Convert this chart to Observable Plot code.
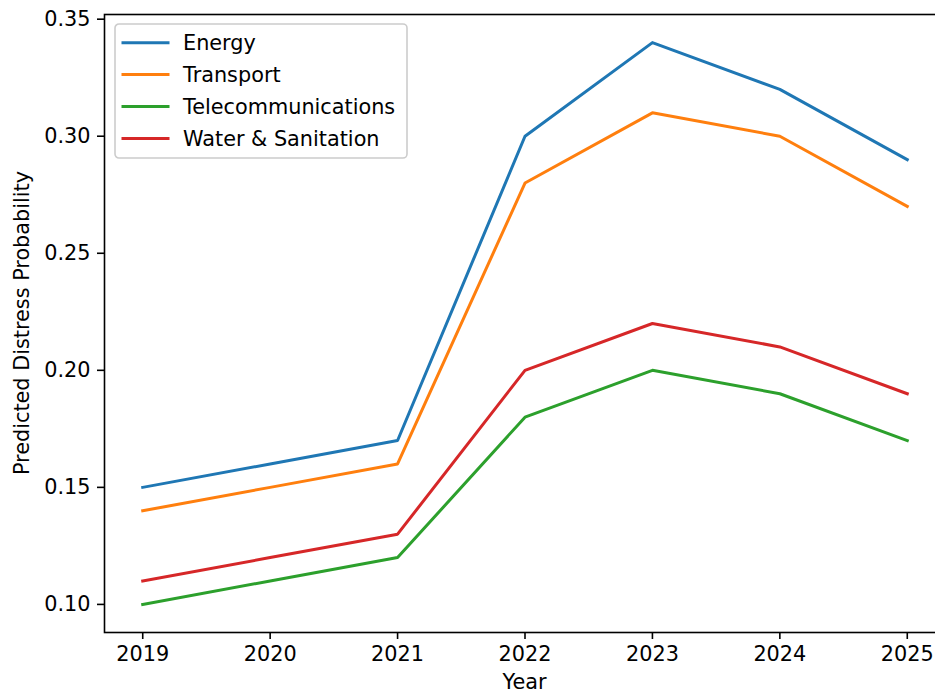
<!DOCTYPE html>
<html>
<head>
<meta charset="utf-8">
<script src="https://cdn.jsdelivr.net/npm/d3@7"></script>
<script src="https://cdn.jsdelivr.net/npm/@observablehq/plot@0.6"></script>
<style>
  html, body { margin: 0; padding: 0; background: #fff; overflow: hidden; }
  #chart svg { max-width: none !important; display: block; }
</style>
</head>
<body>
<div id="chart"></div>
<script>
// Predicted distress probability by infrastructure sector, 2019–2025
const years = [2019, 2020, 2021, 2022, 2023, 2024, 2025];
const energy = [0.15, 0.16, 0.17, 0.30, 0.34, 0.32, 0.29];
const transport = [0.14, 0.15, 0.16, 0.28, 0.31, 0.30, 0.27];
const telecommunications = [0.10, 0.11, 0.12, 0.18, 0.20, 0.19, 0.17];
const waterSanitation = [0.11, 0.12, 0.13, 0.20, 0.22, 0.21, 0.19];

const sectors = ["Energy", "Transport", "Telecommunications", "Water & Sanitation"];
const sectorValues = [energy, transport, telecommunications, waterSanitation];
const sectorColors = ["#1f77b4", "#ff7f0e", "#2ca02c", "#d62728"];
const yTicks = [0.10, 0.15, 0.20, 0.25, 0.30, 0.35];

const xLabel = "Year";
const yLabel = "Predicted Distress Probability";

// long-format rows for Plot
const rows = sectors.flatMap((name, i) =>
  years.map((year, j) => ({sector: name, year, value: sectorValues[i][j]}))
);

const font = "'DejaVu Sans', 'Liberation Sans', sans-serif";
const fontSize = 20.8;

const chart = Plot.plot({
  width: 945,
  height: 695,
  marginLeft: 104,
  marginRight: 0,
  marginTop: 14,
  marginBottom: 63,
  style: {fontFamily: font, fontSize: `${fontSize}px`, color: "#000", background: "#fff", maxWidth: "none"},
  x: {domain: [2018.7, 2025.3]},
  y: {domain: [0.088, 0.352]},
  color: {domain: sectors, range: sectorColors},
  marks: [
    Plot.line(rows, {
      x: "year", y: "value", z: "sector", stroke: "sector",
      strokeWidth: 3, strokeLinejoin: "round", strokeLinecap: "square"
    }),
    Plot.axisX({
      ticks: years, tickFormat: d3.format("d"), tickSize: 7, tickPadding: 7,
      strokeWidth: 1.6, label: null, fontSize
    }),
    Plot.axisY({
      ticks: yTicks, tickFormat: d3.format(".2f"), tickSize: 7, tickPadding: 7,
      strokeWidth: 1.6, label: null, fontSize
    }),
    Plot.frame({stroke: "#000", strokeWidth: 1.6})
  ]
});

document.getElementById("chart").appendChild(chart);

// Axis titles and legend
const svg = d3.select(chart);
const xs = chart.scale("x");
const ys = chart.scale("y");
const plotLeft = xs.range[0];
const plotRight = xs.range[1];
const plotTop = ys.range[1];
const plotBottom = ys.range[0];

svg.append("text")
  .attr("x", (plotLeft + plotRight) / 2)
  .attr("y", plotBottom + 57)
  .attr("text-anchor", "middle")
  .attr("font-family", font)
  .attr("font-size", fontSize)
  .attr("fill", "#000")
  .text(xLabel);

svg.append("text")
  .attr("transform", `translate(28.5,${(plotTop + plotBottom) / 2}) rotate(-90)`)
  .attr("text-anchor", "middle")
  .attr("font-family", font)
  .attr("font-size", fontSize)
  .attr("fill", "#000")
  .text(yLabel);

const legend = svg.append("g").attr("transform", `translate(${plotLeft + 11},${plotTop + 10})`);
legend.append("rect")
  .attr("x", 0).attr("y", 0)
  .attr("width", 292).attr("height", 134)
  .attr("rx", 4).attr("ry", 4)
  .attr("fill", "#fff").attr("fill-opacity", 0.8)
  .attr("stroke", "#cccccc").attr("stroke-width", 1.6);

sectors.forEach((name, i) => {
  const cy = 18.7 + i * 31.9;
  legend.append("line")
    .attr("x1", 8).attr("x2", 53)
    .attr("y1", cy).attr("y2", cy)
    .attr("stroke", sectorColors[i]).attr("stroke-width", 3)
    .attr("stroke-linecap", "square");
  legend.append("text")
    .attr("x", 68).attr("y", cy)
    .attr("dy", "0.35em")
    .attr("text-anchor", "start")
    .attr("font-family", font)
    .attr("font-size", fontSize)
    .attr("fill", "#000")
    .text(name);
});
</script>
</body>
</html>
